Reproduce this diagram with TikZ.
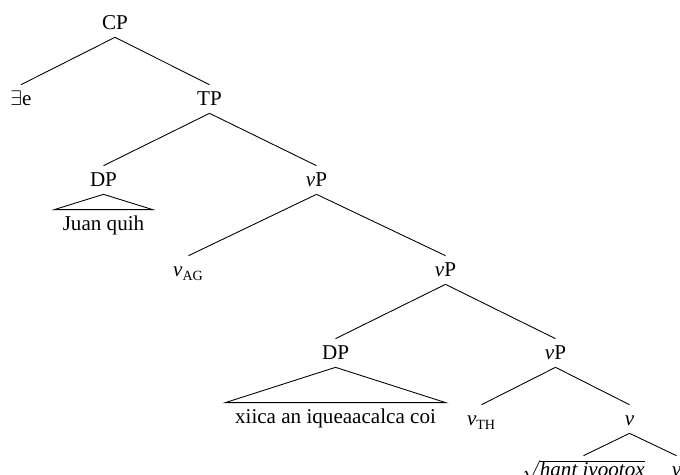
\documentclass[tikz,border=0pt,12pt]{standalone}
\usepackage{fontspec}
\setmainfont{Liberation Serif}
\usepackage{tikz}
\usetikzlibrary{positioning}
\tikzstyle{cat}    = [inner xsep=1pt, inner ysep=4pt, text height=7.9pt, text depth=0pt]
\tikzstyle{roof}   = [cat, inner xsep=0pt]
\tikzstyle{branch} = [line width=0.5pt]

\begin{document}
\begin{tikzpicture}[on grid]
    \useasboundingbox (0,0) rectangle (13.6,-9.5);

    \node (cp)    [cat] at (2.3,-0.46) {CP};
    \node (ex)    [cat, below left=1.52cm and 1.88cm of cp] {$\exists$e};
    \node (tp)    [cat, below right=1.52cm and 1.89cm of cp] {TP};
    \node (dpa)   [cat, below left=1.62cm and 2.12cm of tp] {DP};
    \node (vpa)   [cat, below right=1.62cm and 2.14cm of tp] {\textit{v}P};
    \node (juan)  [roof, minimum width=1.96cm, below=0.88cm of dpa] {Juan quih};
    \node (vag)   [cat, below left=1.8cm and 2.56cm of vpa] {\textit{v}\textsubscript{AG}};
    \node (vpb)   [cat, below right=1.8cm and 2.58cm of vpa] {\textit{v}P};
    \node (dpb)   [cat, below left=1.66cm and 2.2cm of vpb] {DP};
    \node (vpc)   [cat, below right=1.66cm and 2.2cm of vpb] {\textit{v}P};
    \node (xiica) [roof, minimum width=4.4cm, below=1.28cm of dpb] {xiica an iqueaacalca coi};
    \node (vth)   [cat, below left=1.32cm and 1.48cm of vpc] {\textit{v}\textsubscript{TH}};
    \node (vv)    [cat, below right=1.32cm and 1.48cm of vpc] {\textit{v}};
    \node (root)  [cat, below left=1.02cm and 0.92cm of vv] {$\sqrt{\textit{hant iyootox}}$};
    \node (vr)    [cat, below right=1.02cm and 0.94cm of vv] {\textit{v}};

    \draw [branch] (cp.south)  -- (ex.north);
    \draw [branch] (cp.south)  -- (tp.north);
    \draw [branch] (tp.south)  -- (dpa.north);
    \draw [branch] (tp.south)  -- (vpa.north);
    \draw [branch] (dpa.south) -- (juan.north west) -- (juan.north east) -- cycle;
    \draw [branch] (vpa.south) -- (vag.north);
    \draw [branch] (vpa.south) -- (vpb.north);
    \draw [branch] (vpb.south) -- (dpb.north);
    \draw [branch] (vpb.south) -- (vpc.north);
    \draw [branch] (dpb.south) -- (xiica.north west) -- (xiica.north east) -- cycle;
    \draw [branch] (vpc.south) -- (vth.north);
    \draw [branch] (vpc.south) -- (vv.north);
    \draw [branch] (vv.south)  -- (root.north);
    \draw [branch] (vv.south)  -- (vr.north);

  \end{tikzpicture}
\end{document}
